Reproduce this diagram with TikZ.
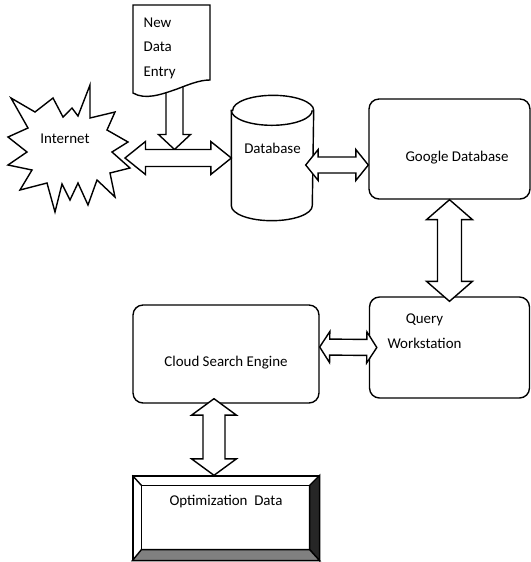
\documentclass[tikz,border=0pt]{standalone}
\usepackage{fontspec}
\setmainfont{Carlito}
\usetikzlibrary{calc}
\tikzset{
  blockarrow/.style={draw,fill=white,line width=0.8pt,line join=miter},
  roundbox/.style={draw,fill=white,rounded corners=0.2cm,line width=0.8pt},
}
%% double headed block arrow: from, to, shaft half width, head half width, head length
\newcommand{\dblarrow}[5]{%
  \path ($(#1)!#5!(#2)$) coordinate (ha) ($(#2)!#5!(#1)$) coordinate (hb);
  \draw[blockarrow] (#1) -- ($(ha)!#4!90:(#2)$) -- ($(ha)!#3!90:(#2)$)
    -- ($(hb)!#3!-90:(#1)$) -- ($(hb)!#4!-90:(#1)$) -- (#2)
    -- ($(hb)!#4!90:(#1)$) -- ($(hb)!#3!90:(#1)$)
    -- ($(ha)!#3!-90:(#2)$) -- ($(ha)!#4!-90:(#2)$) -- cycle;}
%% single headed block arrow
\newcommand{\sglarrow}[5]{%
  \path ($(#2)!#5!(#1)$) coordinate (hb);
  \draw[blockarrow] ($(#1)!#3!90:(#2)$) -- ($(hb)!#3!-90:(#1)$) -- ($(hb)!#4!-90:(#1)$)
    -- (#2) -- ($(hb)!#4!90:(#1)$) -- ($(hb)!#3!90:(#1)$) -- ($(#1)!#3!-90:(#2)$) -- cycle;}
\begin{document}
\begin{tikzpicture}[x=0.02cm,y=-0.02cm,line width=0.8pt,
  every node/.append style={font=\fontsize{8.5}{14}\selectfont}]
  \useasboundingbox (0,0) rectangle (531,562);
  %% internet
  \draw[fill=white] (11,98) -- (35,112) -- (53,98) -- (63,117) -- (72,108) -- (78,116)
    -- (90,85) -- (90,118) -- (115,112) -- (107,130) -- (128,142) -- (112,152)
    -- (130,168) -- (110,173) -- (115,197) -- (97,180) -- (88,205) -- (78,183)
    -- (70,200) -- (62,184) -- (55,212) -- (47,183) -- (20,190) -- (32,170)
    -- (8,165) -- (27,152) -- (8,137) -- (28,128) -- cycle;
  \node (inet) at (65,139) {Internet};
  %% database
  \node[minimum width=1.62cm,minimum height=2.48cm,inner sep=0pt] (db) at (272.5,158) {};
  \draw[fill=white] ($(db.north west)+(0,15)$) -- ($(db.south west)+(0,-15)$)
    arc[start angle=180,end angle=360,x radius=0.81cm,y radius=0.3cm]
    -- ($(db.north east)+(0,15)$)
    arc[start angle=0,end angle=180,x radius=0.81cm,y radius=0.3cm] -- cycle;
  \draw ($(db.north west)+(0,15)$) arc[start angle=180,end angle=360,x radius=0.81cm,y radius=0.3cm];
  \node at ($(db.center)+(0,-10)$) {Database};
  %% new data entry
  \coordinate (docB) at (174.5,86);
  \coordinate (join) at (174.5,149.5);
  \sglarrow{docB}{join}{0.17cm}{0.32cm}{0.3cm}
  \draw[fill=white] (133,5) -- (210,5) -- (210,80) .. controls (200,80) and (190,84) .. (177,89)
    .. controls (160,95) and (145,100) .. (133,93) -- cycle;
  \node[anchor=north west,align=left,inner sep=0pt] (entry) at (143,17) {New\\Data\\Entry};
  %% boxes
  \node[roundbox,minimum width=3.22cm,minimum height=2cm,
    label={[xshift=0.15cm,yshift=-0.18cm]center:Google Database}] (google) at (449.5,149) {};
  \node[roundbox,minimum width=3.2cm,minimum height=2.02cm,
    label={[align=center,xshift=-0.5cm,yshift=0.33cm]center:Query\\Workstation}] (query) at (449.5,347.5) {};
  \node[roundbox,minimum width=3.72cm,minimum height=1.96cm,
    label={[yshift=-0.18cm]center:Cloud Search Engine}] (cloud) at (226,354) {};
  %% optimization data
  \node[draw,minimum width=3.72cm,minimum height=1.68cm,
    label={[yshift=0.32cm]center:Optimization\ \ Data}] (opt) at (226,518) {};
  \draw[fill=black!85] (opt.north east) -- ++(-10,10) -- ($(opt.south east)+(-10,-11)$)
    -- (opt.south east) -- cycle;
  \draw[fill=black!50] (opt.south west) -- ++(9,-11) -- ($(opt.south east)+(-10,-11)$)
    -- (opt.south east) -- cycle;
  \draw ($(opt.north west)+(9,10)$) rectangle ($(opt.south east)+(-10,-11)$);
  \draw (opt.north west) -- ++(9,10);
  %% arrows
  \coordinate (inetR) at (125,158);
  \dblarrow{inetR}{db.west}{0.17cm}{0.33cm}{0.41cm}
  \coordinate (dbR) at ($(db.east)+(-8,7)$);
  \coordinate (gL) at ($(google.west)+(0,16)$);
  \dblarrow{dbR}{gL}{0.16cm}{0.31cm}{0.25cm}
  \coordinate (qN) at ($(query.north)+(0,5)$);
  \dblarrow{google.south}{qN}{0.24cm}{0.46cm}{0.4cm}
  \coordinate (cR) at ($(cloud.east)+(0,-7)$);
  \coordinate (qL) at ($(query.west)+(8,0)$);
  \dblarrow{cR}{qL}{0.16cm}{0.31cm}{0.2cm}
  \coordinate (cB) at ($(cloud.south)+(-12,-5)$);
  \coordinate (oT) at ($(opt.north)+(-12,0)$);
  \dblarrow{cB}{oT}{0.22cm}{0.45cm}{0.33cm}
\end{tikzpicture}
\end{document}
